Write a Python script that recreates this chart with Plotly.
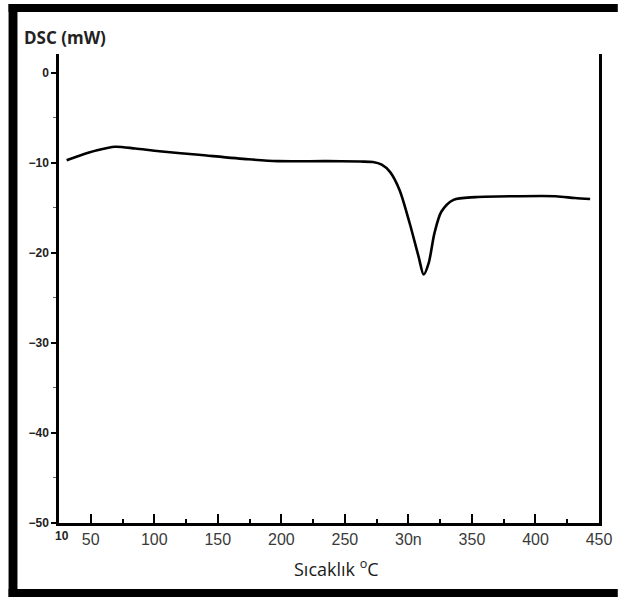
import plotly.graph_objects as go

# Data (temperature °C, DSC mW)
temperature = [31, 41, 55, 69, 85, 104, 135, 174, 197, 236, 262, 272, 279, 285.5, 293, 301, 308, 312,
               316, 320.5, 326, 335.5, 353, 385, 416, 431, 443]
dsc = [-9.7, -9.2, -8.6, -8.2, -8.4, -8.7, -9.1, -9.6, -9.8, -9.8, -9.85, -9.9, -10.2, -11.0, -13.0, -16.7, -20.4, -22.4,
       -21.1, -17.8, -15.4, -14.1, -13.8, -13.7, -13.7, -13.9, -14.0]

x_ticks = [50, 100, 150, 200, 250, 300, 350, 400, 450]
x_tick_text = ["50", "100", "150", "200", "250", "30n", "350", "400", "450"]
y_ticks = [0, -10, -20, -30, -40, -50]
origin_label = "10"

W, H = 624, 597
L, R, T, B = 59, 605, 54, 523
pw, ph = R - L, B - T


def px(x):
    return (x - L) / pw


def py(y):
    return (B - y) / ph


fig = go.Figure()
fig.add_trace(go.Scatter(x=temperature, y=dsc, mode="lines",
                         line=dict(color="black", width=2.6, shape="spline", smoothing=0.8),
                         showlegend=False, hoverinfo="skip"))

fig.update_layout(
    width=W, height=H,
    margin=dict(l=L, r=W - R, t=T, b=H - B),
    paper_bgcolor="white", plot_bgcolor="white",
    font=dict(family="Liberation Sans, Arial, sans-serif", color="#333"),
    xaxis=dict(range=[25, 450], tickvals=x_ticks, ticktext=x_tick_text,
               ticks="inside", ticklen=9, tickwidth=2, tickcolor="black",
               showline=True, linecolor="black", linewidth=2.5,
               showgrid=False, zeroline=False,
               tickfont=dict(size=16, color="#3a3a3a"),
               minor=dict(dtick=25, tick0=25, ticks="inside", ticklen=4, tickwidth=2, tickcolor="black")),
    yaxis=dict(range=[-50, 2.1], tickvals=y_ticks,
               ticks="outside", ticklen=5, tickwidth=1.5, tickcolor="black",
               showline=True, linecolor="black", linewidth=2.5, mirror=True,
               showgrid=False, zeroline=False,
               tickfont=dict(size=12, color="#222", weight="bold"),
               minor=dict(dtick=5, tick0=0, ticks="outside", ticklen=3, tickwidth=1, tickcolor="#666")),
)

annotations = [
    dict(text="DSC (mW)", x=px(22), y=py(37), xref="paper", yref="paper",
         xanchor="left", yanchor="middle", showarrow=False,
         font=dict(size=17, color="#222", weight="bold", family="Open Sans, Liberation Sans, sans-serif")),
    dict(text="Sıcaklık <sup>o</sup>C", x=px(340), y=py(568), xref="paper", yref="paper",
         xanchor="center", yanchor="middle", showarrow=False,
         font=dict(size=18, color="#1a1a1a", family="Open Sans, Liberation Sans, sans-serif")),
    dict(text=origin_label, x=px(62), y=py(536), xref="paper", yref="paper",
         xanchor="center", yanchor="middle", showarrow=False,
         font=dict(size=12, color="#222", weight="bold")),
]
fig.update_layout(annotations=annotations)

# Black picture frame
frame = [
    (8, 4, 17, 597),     # left bar
    (8, 4, 624, 12),     # top bar
    (8, 589, 624, 597),  # bottom bar
]
shapes = []
for x0, y0, x1, y1 in frame:
    shapes.append(dict(type="rect", xref="paper", yref="paper",
                       x0=px(x0), x1=px(x1), y0=py(y1), y1=py(y0),
                       fillcolor="black", line=dict(width=0), layer="above"))
fig.update_layout(shapes=shapes)

fig.write_html("out.html")
